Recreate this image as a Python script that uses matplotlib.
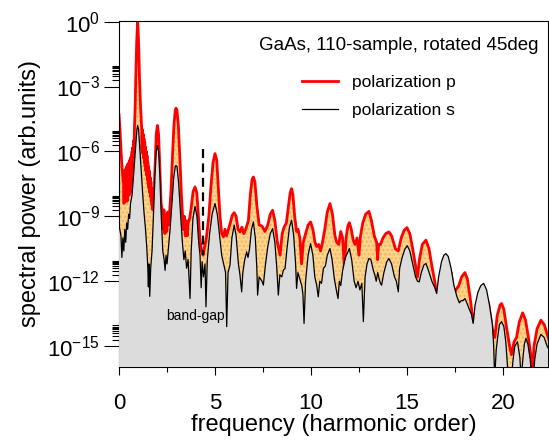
import matplotlib
matplotlib.use("Agg")
import matplotlib.pyplot as plt
import numpy as np

plt.rcParams["font.family"] = ["Liberation Sans", "DejaVu Sans"]
plt.rcParams["mathtext.fontset"] = "custom"
plt.rcParams["mathtext.rm"] = "Liberation Sans"
plt.rcParams["mathtext.it"] = "Liberation Sans:italic"
plt.rcParams["mathtext.bf"] = "Liberation Sans:bold"
plt.rcParams["hatch.linewidth"] = 1.2

# ---- data: frequency (harmonic order) and log10 of spectral power ----
p_x = [0.00, 0.05, 0.10, 0.16, 0.22,
       0.24, 0.26, 0.28, 0.30, 0.32, 0.34, 0.36, 0.38, 0.40, 0.42, 0.44, 0.46, 0.48, 0.50,
       0.52, 0.54, 0.56, 0.58, 0.60, 0.62, 0.64, 0.66, 0.68, 0.70, 0.72, 0.74, 0.76, 0.78, 0.80,
       0.84, 0.87, 0.92, 0.97, 1.02, 1.07, 1.12, 1.16,
       1.18, 1.20, 1.22, 1.24, 1.26, 1.28, 1.30, 1.32, 1.34, 1.36, 1.38, 1.40, 1.42, 1.44,
       1.46, 1.48, 1.50, 1.52, 1.54, 1.56, 1.58, 1.60, 1.62, 1.64, 1.66, 1.68, 1.70, 1.72,
       1.74, 1.76,
       1.81, 1.88, 1.94, 2.00, 2.06, 2.12, 2.19,
       2.24, 2.29, 2.34, 2.39, 2.44, 2.49, 2.54, 2.59, 2.65,
       2.71, 2.78, 2.86, 2.93, 2.97, 3.02, 3.09, 3.17, 3.25,
       3.30, 3.35, 3.40, 3.45, 3.50, 3.55, 3.60, 3.68,
       3.76, 3.86, 3.96, 4.05, 4.13, 4.21, 4.30, 4.38, 4.46, 4.55,
       4.68, 4.79, 4.90, 5.00, 5.09, 5.17, 5.26, 5.35, 5.44, 5.52, 5.60, 5.70, 5.80, 5.90,
       6.00, 6.10, 6.20, 6.30, 6.40, 6.50, 6.60, 6.74, 6.84, 6.93, 7.00, 7.08, 7.18, 7.30,
       7.45, 7.60, 7.75, 7.88, 8.00, 8.12, 8.25, 8.39, 8.50, 8.60, 8.72, 8.83, 8.92, 8.99,
       9.06, 9.15, 9.25, 9.33, 9.42, 9.51, 9.60, 9.72, 9.85, 9.98, 10.10, 10.21, 10.30,
       10.40, 10.50, 10.60, 10.72, 10.85, 10.99, 11.12, 11.25, 11.34, 11.45, 11.55, 11.65,
       11.74, 11.83, 11.92, 12.00, 12.10, 12.20, 12.29, 12.40, 12.50, 12.58, 12.70, 12.85,
       13.02, 13.15, 13.30, 13.42, 13.47, 13.52, 13.62, 13.75, 13.90, 14.06, 14.20, 14.40,
       14.55, 14.70, 14.85, 15.00, 15.15, 15.30, 15.45, 15.55, 15.65, 15.80, 15.99, 16.15,
       16.30, 16.45, 16.55, 16.80, 17.03, 17.30, 17.45, 17.55, 17.70, 17.85, 18.02, 18.15,
       18.30, 18.45, 18.60, 18.80, 19.00, 19.25, 19.45, 19.58, 19.70, 19.85, 19.93, 20.05,
       20.20, 20.35, 20.45, 20.58, 20.71, 20.85, 21.03, 21.18, 21.33, 21.45, 21.53, 21.62,
       21.78, 21.98, 22.15, 22.36, 22.50]
p_log = [-4.3, -5.0, -5.9, -6.8, -7.4,
         -7.0, -8.4, -6.9, -8.3, -6.9, -8.3, -6.8, -8.2, -6.7, -8.3, -6.6, -8.1, -6.6, -8.0,
         -6.5, -8.0, -6.4, -7.9, -6.3, -7.8, -6.2, -7.6, -6.0, -7.4, -5.8, -7.0, -5.5, -6.4, -5.0,
         -4.0, -2.7, -0.95, 0.0, -0.95, -2.7, -3.9, -4.6,
         -4.9, -5.9, -5.0, -6.1, -5.2, -6.3, -5.4, -6.5, -5.6, -6.7, -5.8, -6.9, -6.0, -7.1,
         -6.2, -7.3, -6.5, -7.5, -6.7, -7.7, -6.9, -7.9, -7.2, -8.1, -7.4, -8.3, -7.7, -8.5,
         -8.0, -8.7,
         -8.3, -6.6, -5.2, -4.8, -5.2, -6.6, -8.4,
         -8.7, -9.6, -8.7, -9.8, -8.9, -9.7, -8.8, -9.4, -8.6,
         -7.8, -6.3, -4.8, -4.1, -4.0, -4.1, -4.8, -6.3, -8.0,
         -8.8, -9.6, -9.0, -9.9, -9.2, -9.9, -9.3, -9.1,
         -8.6, -7.85, -7.64, -7.9, -8.9, -10.0, -10.6, -10.8, -10.4, -10.0,
         -9.0, -7.6, -6.5, -6.1, -6.4, -7.6, -9.0, -9.8, -9.95, -9.6, -9.9, -9.6, -9.3, -8.95,
         -8.83, -9.0, -9.6, -9.72, -9.5, -9.8, -9.6, -9.2, -8.0, -7.3, -7.18, -7.4, -8.5, -9.4,
         -9.45, -9.7, -9.4, -8.9, -8.72, -9.2, -10.2, -10.8, -9.8, -9.5, -9.3, -8.5, -7.9, -7.72,
         -8.0, -9.0, -9.7, -9.6, -10.0, -11.2, -10.2, -9.8, -9.4, -9.26, -9.6, -10.2, -10.4,
         -10.3, -10.6, -10.2, -9.6, -8.8, -8.41, -8.9, -9.9, -10.2, -10.3, -9.7, -10.0,
         -11.4, -10.0, -9.45, -9.29, -9.6, -10.1, -10.3, -10.0, -10.8, -9.9, -9.3, -8.9,
         -8.77, -9.2, -9.9, -10.2, -11.0, -10.3, -10.3, -10.0, -9.8, -9.72, -9.9, -10.5,
         -10.6, -10.0, -9.65, -9.52, -9.8, -10.5, -11.3, -11.8, -11.0, -10.3, -10.1, -10.5,
         -11.3, -12.0, -12.6, -11.6, -11.0, -11.6, -12.6, -12.4, -12.2, -11.8, -11.6, -11.9,
         -12.8, -13.9, -13.3, -12.8, -12.6, -13.0, -14.2, -14.6, -13.6, -13.1, -13.03, -13.3,
         -14.2, -15.0, -15.4, -14.8, -14.6, -13.9, -13.46, -13.8, -14.6, -15.4, -16.3, -15.0,
         -14.2, -13.8, -14.0, -14.6, -15.0]

s_x = [0.00, 0.10, 0.15, 0.20, 0.25, 0.30, 0.35, 0.40, 0.45, 0.50, 0.55, 0.60, 0.68, 0.75,
       0.82, 0.88, 0.93, 0.97, 1.02, 1.08, 1.15, 1.22, 1.30, 1.38, 1.45, 1.50, 1.53, 1.56,
       1.60, 1.65, 1.72, 1.80, 1.88, 1.94, 2.00, 2.06, 2.12, 2.20, 2.28, 2.35, 2.40, 2.45,
       2.50, 2.58, 2.66, 2.75, 2.85, 2.93, 2.97, 3.02, 3.10, 3.20, 3.30, 3.38, 3.45, 3.52,
       3.60, 3.70, 3.76, 3.85, 3.96, 4.06, 4.15, 4.22, 4.28, 4.33, 4.40, 4.48, 4.53, 4.60,
       4.72, 4.85, 5.00, 5.12, 5.25, 5.35, 5.45, 5.55, 5.61, 5.68, 5.78, 5.88, 6.00, 6.10,
       6.22, 6.30, 6.39, 6.45, 6.55, 6.65, 6.72, 6.80, 6.90, 7.00, 7.10, 7.18, 7.22, 7.30,
       7.45, 7.52, 7.62, 7.75, 7.88, 8.00, 8.12, 8.22, 8.30, 8.38, 8.48, 8.56, 8.65, 8.75,
       8.88, 8.99, 9.10, 9.20, 9.25, 9.32, 9.42, 9.52, 9.58, 9.64, 9.72, 9.85, 9.98, 10.10,
       10.20, 10.30, 10.38, 10.46, 10.55, 10.65, 10.75, 10.85, 10.99, 11.10, 11.22, 11.32,
       11.41, 11.48, 11.55, 11.65, 11.80, 12.00, 12.12, 12.25, 12.35, 12.45, 12.55, 12.65,
       12.73, 12.82, 12.92, 13.02, 13.12, 13.25, 13.33, 13.40, 13.48, 13.55, 13.62, 13.68,
       13.80, 13.95, 14.06, 14.20, 14.35, 14.45, 14.55, 14.62, 14.75, 14.90, 15.02, 15.15,
       15.30, 15.45, 15.55, 15.64, 15.75, 15.88, 15.99, 16.12, 16.30, 16.45, 16.55, 16.65,
       16.80, 16.92, 17.03, 17.15, 17.30, 17.45, 17.60, 17.73, 17.82, 17.92, 18.02, 18.12,
       18.25, 18.35, 18.45, 18.55, 18.70, 18.85, 19.00, 19.15, 19.30, 19.45, 19.52, 19.57,
       19.65, 19.72, 19.82, 19.93, 20.05, 20.15, 20.23, 20.28, 20.45, 20.52, 20.62, 20.76,
       20.88, 20.95, 21.05, 21.12, 21.20, 21.30, 21.42, 21.50, 21.58, 21.66, 21.78, 21.98,
       22.15, 22.30, 22.50]
s_log = [-9.4, -9.9, -10.9, -10.0, -10.6, -9.6, -10.2, -9.3, -9.6, -8.9, -9.1, -8.4, -8.0, -7.2,
         -6.3, -5.6, -5.0, -4.8, -5.0, -5.8, -6.8, -7.8, -8.8, -9.6, -10.5, -11.4, -12.26, -11.2,
         -12.7, -11.4, -10.6, -8.8, -7.0, -6.0, -5.72, -6.0, -7.0, -9.0, -10.6, -11.0, -11.5, -10.8,
         -11.2, -10.4, -9.6, -8.5, -7.2, -6.7, -6.65, -6.7, -7.4, -8.8, -10.2, -11.0, -10.6, -11.4,
         -11.0, -12.8, -10.6, -9.1, -8.54, -9.0, -10.2, -10.8, -12.3, -11.1, -11.8, -11.2, -13.18, -11.0,
         -9.8, -8.9, -8.41, -8.9, -10.0, -10.8, -11.2, -11.6, -14.1, -11.6, -11.26, -10.0, -9.41, -9.9,
         -11.2, -11.7, -12.49, -11.6, -11.0, -10.64, -10.9, -10.5, -9.6, -9.26, -10.0, -11.4, -12.64, -11.8,
         -12.0, -12.18, -11.3, -10.4, -9.8, -9.57, -10.2, -11.4, -12.64, -11.7, -11.8, -11.49, -11.41, -10.5,
         -9.5, -9.18, -9.9, -11.2, -12.33, -11.6, -11.9, -12.2, -12.6, -13.95, -12.0, -10.8, -10.26, -10.8,
         -11.8, -12.2, -12.72, -12.0, -12.1, -11.4, -11.3, -10.8, -10.49, -11.0, -11.9, -12.4,
         -12.8, -12.0, -12.2, -11.5, -10.9, -10.49, -11.0, -12.0, -12.3, -12.0, -12.4, -12.1,
         -13.87, -11.8, -11.2, -10.95, -11.0, -11.5, -11.72, -12.0, -11.6, -11.9, -12.1, -12.18,
         -11.6, -11.1, -10.95, -11.2, -11.8, -12.0, -12.49, -11.4, -10.9, -10.5, -10.36, -10.6,
         -11.2, -11.8, -12.0, -12.03, -11.6, -11.25, -11.18, -11.5, -12.0, -12.3, -12.57, -11.8,
         -11.1, -10.8, -10.72, -10.85, -11.4, -12.2, -12.7, -13.0, -12.9, -12.9, -12.8, -13.0,
         -13.3, -13.5, -13.95, -13.1, -12.5, -12.2, -12.1, -12.4, -13.1, -14.0, -15.0, -16.5,
         -15.2, -14.64, -14.0, -13.87, -14.1, -14.8, -15.8, -16.5, -16.5, -15.7, -15.0, -14.8,
         -15.5, -16.5, -15.5, -14.9, -14.64, -14.9, -15.6, -16.5, -16.5, -15.6, -14.9, -14.46,
         -14.6, -15.0, -15.3]

band_gap_x = 4.35
band_gap_span = [10**-5.9, 10**-10.8]

p_pow = 10.0 ** np.array(p_log)
s_pow = 10.0 ** np.array(s_log)
floor = 1e-17

fig = plt.figure(figsize=(5.49, 4.42), dpi=100)
ax = fig.add_axes([0.2168, 0.1704, 0.7814, 0.7821])

ax.fill_between(p_x, p_pow, floor, facecolor="#fcd590", edgecolor="#f5b85a",
                hatch="....", linewidth=0, zorder=1)
ax.plot(p_x, p_pow, color="#ff0000", lw=2.0, zorder=2, label="polarization p")
ax.fill_between(s_x, s_pow, floor, facecolor="#dcdcdc", linewidth=0, zorder=3)
ax.plot(s_x, s_pow, color="black", lw=0.9, zorder=4, label="polarization s")

ax.vlines(band_gap_x, *band_gap_span, colors="black", linestyles=(0, (4, 2.5)),
          lw=1.6, zorder=5)
ax.text(4.0, 10**-13.6, "band-gap", fontsize=10, ha="center", va="center", zorder=6)

ax.set_yscale("log")
ax.set_xlim(0, 22.35)
ax.set_ylim(10**-15.95, 10**0.03)

major_exp = list(range(-15, 1, 3))
ax.set_yticks([10.0**k for k in major_exp])
ax.set_yticklabels([r"$10^{%d}$" % k for k in major_exp])
ax.set_yticks([m * 10.0**k for k in major_exp if k < 0 for m in range(2, 10)], minor=True)
ax.set_yticklabels([], minor=True)
ax.set_xticks([0, 5, 10, 15, 20])
ax.set_xticks([2.5, 7.5, 12.5, 17.5], minor=True)

ax.tick_params(axis="both", which="both", direction="out", width=0.8, labelsize=16)
ax.tick_params(axis="y", which="major", length=11, pad=3)
ax.tick_params(axis="y", which="minor", length=5)
ax.tick_params(axis="x", which="major", length=6, pad=13)
ax.tick_params(axis="x", which="minor", length=3.5)

ax.set_xlabel("frequency (harmonic order)", fontsize=17, labelpad=0)
ax.set_ylabel("spectral power (arb.units)", fontsize=17, labelpad=4)

ax.text(0.977, 0.93, "GaAs, 110-sample, rotated 45deg", transform=ax.transAxes,
        ha="right", va="center", fontsize=13.5)

ax.legend(loc="upper left", bbox_to_anchor=(0.4266, 0.845), frameon=False,
          fontsize=12.5, handlelength=2.1, handletextpad=0.8, labelspacing=0.75,
          borderpad=0, borderaxespad=0)

fig.savefig("out.png", dpi=100)
